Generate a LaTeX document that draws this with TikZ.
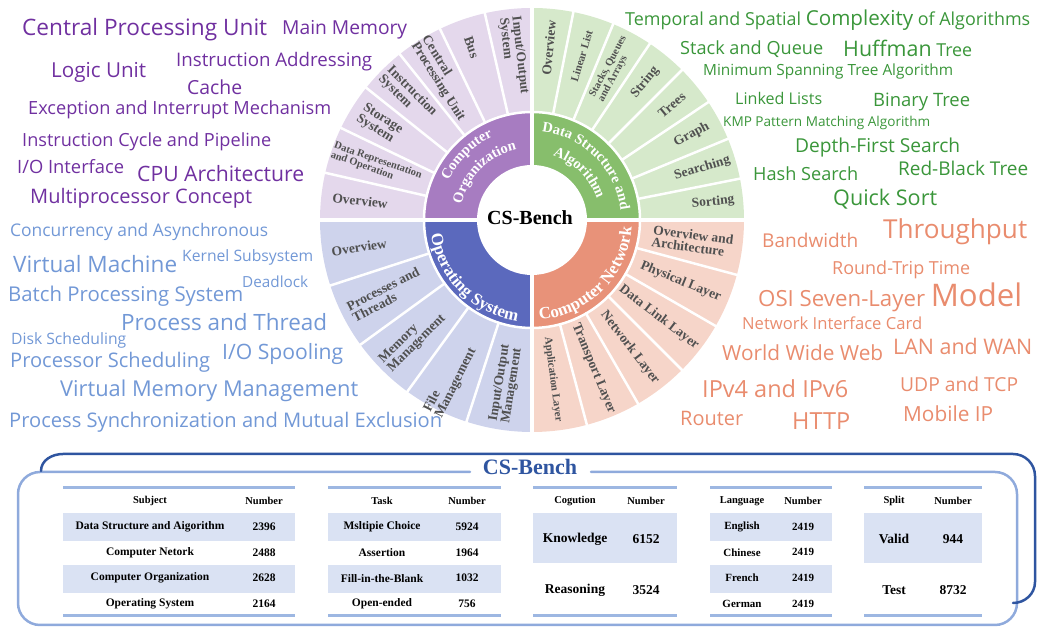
\documentclass[tikz,border=0pt]{standalone}
\usepackage{fontspec}
\setmainfont{Liberation Serif}
\newfontfamily\cloudfont{Open Sans}
\usepackage{tikz}
\usetikzlibrary{decorations.text}

\definecolor{colight}{RGB}{228,216,236}
\definecolor{codark}{RGB}{167,124,193}
\definecolor{dslight}{RGB}{214,233,203}
\definecolor{dsdark}{RGB}{135,190,108}
\definecolor{oslight}{RGB}{206,211,236}
\definecolor{osdark}{RGB}{91,105,189}
\definecolor{cnlight}{RGB}{246,213,201}
\definecolor{cndark}{RGB}{232,146,121}
\definecolor{cotext}{RGB}{112,48,160}
\definecolor{dstext}{RGB}{58,150,58}
\definecolor{ostext}{RGB}{114,152,214}
\definecolor{cntext}{RGB}{233,140,110}
\definecolor{segtext}{RGB}{80,80,80}
\definecolor{rowfill}{RGB}{218,226,243}
\definecolor{rulecol}{RGB}{157,183,226}
\definecolor{benchblue}{RGB}{47,85,160}
\definecolor{framelight}{RGB}{143,170,220}

\newcommand{\fitw}[2]{\resizebox{#1pt}{!}{#2}}
\newcommand{\ringfont}{\bfseries\fontsize{14.5}{14.5}\selectfont}
\newcommand{\ringfontb}{\bfseries\fontsize{17}{17}\selectfont}

\begin{document}
\begin{tikzpicture}[x=1pt,y=1pt,line cap=round,line join=round,
  coword/.style={anchor=west,inner sep=0pt,text=cotext,font=\cloudfont},
  dsword/.style={coword,text=dstext},
  osword/.style={coword,text=ostext},
  cnword/.style={coword,text=cntext},
  seg/.style={inner sep=0pt,align=left,text=segtext,font=\bfseries\fontsize{13.5}{12.5}\selectfont},
  segsmall/.style={seg,font=\bfseries\fontsize{10.5}{10}\selectfont},
  gap/.style={white,line width=2.5pt},
  th/.style={font=\bfseries\fontsize{10.5}{10.5}\selectfont,inner sep=0pt},
  td/.style={font=\bfseries\fontsize{11.5}{11.5}\selectfont,inner sep=0pt},
  tdsmall/.style={font=\bfseries\fontsize{11}{11}\selectfont,inner sep=0pt},
  tdbig/.style={font=\bfseries\fontsize{13.5}{13.5}\selectfont,inner sep=0pt},
  rule/.style={rulecol,line width=3pt,line cap=butt}]
\useasboundingbox (0,0) rectangle (1037,628);

% computer organization words
\node[coword] (cpu) at (22,598) {\fitw{245}{Central Processing Unit}};
\node[coword] (mainmem) at (282,598) {\fitw{125}{Main Memory}};
\node[coword] (logic) at (51,556) {\fitw{95}{Logic Unit}};
\node[coword] (addr) at (176,566) {\fitw{196}{Instruction Addressing}};
\node[coword] (cache) at (187,541) {\fitw{55}{Cache}};
\node[coword] (except) at (28,518) {\fitw{303}{Exception and Interrupt Mechanism}};
\node[coword] (cycle) at (22,486) {\fitw{249}{Instruction Cycle and Pipeline}};
\node[coword] (iointf) at (17,461) {\fitw{107}{I/O Interface}};
\node[coword] (cpuarch) at (137,454) {\fitw{167}{CPU Architecture}};
\node[coword] (multi) at (30,430) {\fitw{222}{Multiprocessor Concept}};

% operating system words
\node[osword] (concur) at (10,396) {\fitw{258}{Concurrency and Asynchronous}};
\node[osword] (vm) at (13,364) {\fitw{164}{Virtual Machine}};
\node[osword] (kernel) at (182,371) {\fitw{131}{Kernel Subsystem}};
\node[osword] (deadlock) at (242,346) {\fitw{66}{Deadlock}};
\node[osword] (batch) at (8,332) {\fitw{235}{Batch Processing System}};
\node[osword] (procthr) at (121,306) {\fitw{206}{Process and Thread}};
\node[osword] (disk) at (11,288) {\fitw{115}{Disk Scheduling}};
\node[osword] (procsched) at (10,266) {\fitw{200}{Processor Scheduling}};
\node[osword] (spool) at (222,274) {\fitw{121}{I/O Spooling}};
\node[osword] (vmm) at (60,237) {\fitw{298}{Virtual Memory Management}};
\node[osword] (sync) at (9,206) {\fitw{433}{Process Synchronization and Mutual Exclusion}};

% data structure words
\node[dsword] (temporal) at (625,608) {\fitw{405}{Temporal and Spatial {\fontsize{11.5}{12}\selectfont Complexity} of Algorithms}};
\node[dsword] (stack) at (680,579) {\fitw{143}{Stack and Queue}};
\node[dsword] (huffman) at (843,580) {\fitw{129}{{\fontsize{12}{12}\selectfont Huffman} Tree}};
\node[dsword] (mst) at (703,556) {\fitw{250}{Minimum Spanning Tree Algorithm}};
\node[dsword] (linked) at (735,530) {\fitw{87}{Linked Lists}};
\node[dsword] (binary) at (873,526) {\fitw{97}{Binary Tree}};
\node[dsword] (kmp) at (723,505) {\fitw{207}{KMP Pattern Matching Algorithm}};
\node[dsword] (dfs) at (795,480) {\fitw{165}{Depth-First Search}};
\node[dsword] (hash) at (753,454) {\fitw{105}{Hash Search}};
\node[dsword] (rbt) at (898,460) {\fitw{130}{Red-Black Tree}};
\node[dsword] (quick) at (833,429) {\fitw{104}{Quick Sort}};

% computer network words
\node[cnword] (bandwidth) at (762,388) {\fitw{96}{Bandwidth}};
\node[cnword] (throughput) at (883,396) {\fitw{144}{Throughput}};
\node[cnword] (rtt) at (832,358) {\fitw{138}{Round-Trip Time}};
\node[cnword] (osi) at (758,331) {\fitw{264}{OSI Seven-Layer {\fontsize{14}{14}\selectfont Model}}};
\node[cnword] (nic) at (742,305) {\fitw{180}{Network Interface Card}};
\node[cnword] (www) at (722,275) {\fitw{161}{World Wide Web}};
\node[cnword] (lan) at (893,282) {\fitw{139}{LAN and WAN}};
\node[cnword] (ipv) at (702,239) {\fitw{146}{IPv4 and IPv6}};
\node[cnword] (udp) at (900,244) {\fitw{118}{UDP and TCP}};
\node[cnword] (router) at (680,210) {\fitw{63}{Router}};
\node[cnword] (http) at (792,207) {\fitw{58}{HTTP}};
\node[cnword] (mobile) at (903,214) {\fitw{90}{Mobile IP}};

% sunburst
\begin{scope}[shift={(532,408)}]
\fill[dslight] (0,0) -- (0:212) arc[start angle=0,end angle=90,radius=212] -- cycle;
\fill[colight] (0,0) -- (90:212) arc[start angle=90,end angle=180,radius=212] -- cycle;
\fill[oslight] (0,0) -- (180:212) arc[start angle=180,end angle=270,radius=212] -- cycle;
\fill[cnlight] (0,0) -- (270:212) arc[start angle=270,end angle=360,radius=212] -- cycle;
\fill[dsdark] (0,0) -- (0:108) arc[start angle=0,end angle=90,radius=108] -- cycle;
\fill[codark] (0,0) -- (90:108) arc[start angle=90,end angle=180,radius=108] -- cycle;
\fill[osdark] (0,0) -- (180:108) arc[start angle=180,end angle=270,radius=108] -- cycle;
\fill[cndark] (0,0) -- (270:108) arc[start angle=270,end angle=360,radius=108] -- cycle;
\fill[white] (0,0) circle[radius=55];
\draw[gap] (0,0) circle[radius=108];
\foreach \a in {1,...,6} \draw[gap] (90+\a*90/7:108) -- (90+\a*90/7:214);
\foreach \a in {1,...,7} \draw[gap] (\a*11.25:108) -- (\a*11.25:214);
\foreach \a in {1,...,4} \draw[gap] (180+\a*18:108) -- (180+\a*18:214);
\foreach \a in {1,...,5} \draw[gap] (-\a*15:108) -- (-\a*15:214);
\draw[white,line width=4.5pt] (0,-216) -- (0,216) (-216,0) -- (216,0);

\node[font=\bfseries\fontsize{20}{20}\selectfont,inner sep=0pt] (core) at (-2,2) {CS-Bench};

% ring titles
\path[decorate,decoration={text along path,text color=white,text align=center,
  text={|\ringfont|Computer}}] (180:92) arc[start angle=180,end angle=90,radius=92];
\path[decorate,decoration={text along path,text color=white,text align=center,
  text={|\ringfont|Organization}}] (180:72) arc[start angle=180,end angle=90,radius=72];
\path[decorate,decoration={text along path,text color=white,text align=center,
  text={|\ringfont|Data Structure and}}] (90:89) arc[start angle=90,end angle=0,radius=89];
\path[decorate,decoration={text along path,text color=white,text align=center,
  text={|\ringfont|Algorithm}}] (90:68) arc[start angle=90,end angle=0,radius=68];
\path[decorate,decoration={text along path,text color=white,text align=center,
  text={|\ringfontb|Operating System}}] (180:102) arc[start angle=180,end angle=270,radius=102];
\path[decorate,decoration={text along path,text color=white,text align=center,
  text={|\ringfontb|Computer Network}}] (270:100) arc[start angle=270,end angle=360,radius=100];

% computer organization segments
\node[seg,rotate=-6.4] (co1) at (173.6:173) {Overview};
\node[segsmall,rotate=-19.3] (co2) at (160.7:165) {Data Representation\\and Operation};
\node[seg,rotate=-32.1] (co3) at (147.9:180) {Storage\\System};
\node[seg,rotate=-45] (co4) at (135:176) {Instruction\\System};
\node[seg,rotate=-57.9] (co5) at (122.1:167) {Central\\Processing Unit};
\node[seg,rotate=-70.7] (co6) at (109.3:183) {Bus};
\node[seg,rotate=-83.6] (co7) at (96.4:165) {Input/Output\\System};

% data structure segments
\node[seg,rotate=84.4] (ds1) at (84.4:173) {Overview};
\node[seg,font=\bfseries\fontsize{11}{11}\selectfont,rotate=73.1] (ds2) at (73.1:171) {Linear List};
\node[segsmall,rotate=61.9] (ds3) at (61.9:171) {Stacks, Queues\\and Arrays};
\node[seg,rotate=50.6] (ds4) at (50.6:178) {String};
\node[seg,rotate=39.4] (ds5) at (39.4:181) {Trees};
\node[seg,rotate=28.1] (ds6) at (28.1:181) {Graph};
\node[seg,rotate=16.9] (ds7) at (16.9:178) {Searching};
\node[seg,rotate=5.6] (ds8) at (5.6:182) {Sorting};

% operating system segments
\node[seg,rotate=9] (os1) at (189:175) {Overview};
\node[seg,rotate=27] (os2) at (207:164) {Processes and\\Threads};
\node[seg,rotate=45] (os3) at (225:169) {Memory\\Management};
\node[seg,rotate=63] (os4) at (243:180) {File\\Management};
\node[seg,rotate=81] (os5) at (261:166) {Input/Output\\Management};

% computer network segments
\node[seg,rotate=-7.5] (cn1) at (-7.5:162) {Overview and\\Architecture};
\node[seg,rotate=-22.5] (cn2) at (-22.5:161) {Physical Layer};
\node[seg,rotate=-37.5] (cn3) at (-37.5:160) {Data Link Layer};
\node[seg,rotate=-52.5] (cn4) at (-52.5:161) {Network Layer};
\node[seg,rotate=-67.5] (cn5) at (-67.5:161) {Transport Layer};
\node[seg,font=\bfseries\fontsize{11}{11}\selectfont,rotate=-82.5] (cn6) at (-82.5:161) {Application Layer};
\end{scope}

% frame
\draw[framelight,line width=2.5pt,rounded corners=22pt] (470,156) -- (18,156) -- (18,3) -- (1017,3) -- (1017,156) -- (591,156);
\draw[benchblue,line width=2.5pt] (41,157) to[out=90,in=180] (63,174) -- (1013,174) to[out=0,in=90] (1035,152) -- (1035,46) to[out=-90,in=0] (1013,25);
\node[text=benchblue,font=\bfseries\fontsize{22}{22}\selectfont,inner sep=0pt] (title) at (530,161) {CS-Bench};

% subject table
\fill[rowfill] (63,87) rectangle (295,115);
\fill[rowfill] (63,35) rectangle (295,63);
\draw[rule] (63,140) -- (295,140);
\draw[rule] (63,12) -- (295,12);
\node[th] (subj) at (150,127) {Subject};
\node[th] (subjn) at (264,127) {Number};
\foreach \n/\v [count=\i] in {Data Structure and Aigorithm/2396,Computer Netork/2488,Computer Organization/2628,Operating System/2164}{
  \node[td] (subj\i) at (150,127-\i*25.7) {\n};
  \node[td] (subjn\i) at (264,127-\i*25.7) {\v};
}

% task table
\fill[rowfill] (328,87) rectangle (501,115);
\fill[rowfill] (328,35) rectangle (501,63);
\draw[rule] (328,140) -- (501,140);
\draw[rule] (328,12) -- (501,12);
\node[th] (task) at (382,127) {Task};
\node[th] (taskn) at (467,127) {Number};
\foreach \n/\v [count=\i] in {Msltipie Choice/5924,Assertion/1964,Fill-in-the-Blank/1032,Open-ended/756}{
  \node[td] (task\i) at (382,127-\i*25.7) {\n};
  \node[td] (taskn\i) at (467,127-\i*25.7) {\v};
}

% cognition table
\fill[rowfill] (533,65) rectangle (677,115);
\draw[rule] (533,140) -- (677,140);
\draw[rule] (533,12) -- (677,12);
\node[th] (cog) at (575,127) {Cogution};
\node[th] (cogn) at (646,127) {Number};
\node[tdbig] (cog1) at (575,89) {Knowledge};
\node[tdbig] (cogn1) at (646,89) {6152};
\node[tdbig] (cog2) at (575,38) {Reasoning};
\node[tdbig] (cogn2) at (646,38) {3524};

% language table
\fill[rowfill] (710,87) rectangle (832,115);
\fill[rowfill] (710,35) rectangle (832,63);
\draw[rule] (710,140) -- (832,140);
\draw[rule] (710,12) -- (832,12);
\node[th] (lang) at (742,127) {Language};
\node[th] (langn) at (803,127) {Number};
\foreach \n/\v [count=\i] in {English/2419,Chinese/2419,French/2419,German/2419}{
  \node[tdsmall] (lang\i) at (742,127-\i*25.7) {\n};
  \node[tdsmall] (langn\i) at (803,127-\i*25.7) {\v};
}

% split table
\fill[rowfill] (864,65) rectangle (982,115);
\draw[rule] (864,140) -- (982,140);
\draw[rule] (864,12) -- (982,12);
\node[th] (split) at (894,127) {Split};
\node[th] (splitn) at (953,127) {Number};
\node[tdbig] (split1) at (894,89) {Valid};
\node[tdbig] (splitn1) at (953,89) {944};
\node[tdbig] (split2) at (894,38) {Test};
\node[tdbig] (splitn2) at (953,38) {8732};
\end{tikzpicture}
\end{document}
